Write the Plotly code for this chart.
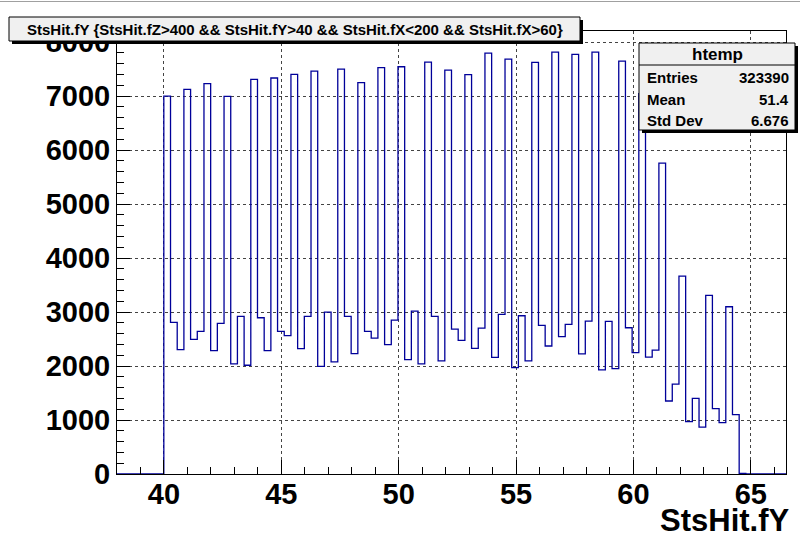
import numpy as np
import plotly.graph_objects as go

# ---- histogram definition (ROOT htemp: 100 bins on [38, 66.5]) ----
x_min = 38.0
x_max = 66.5
n_bins = 100
first_filled_bin = 7  # first bin with entries (starts at ~40.0)

counts = [7000, 2808, 2303, 7124, 2494, 2642, 7229, 2284, 2789, 6995,
          2038, 2919, 2014, 7309, 2894, 2284, 7334, 2642, 2562, 7401,
          2321, 2919, 7463, 1995, 2999, 2075, 7500, 2919, 2229, 7248,
          2642, 2518, 7525, 2395, 2851, 7543, 2118, 3017, 2038, 7629,
          2919, 2094, 7481, 2685, 2475, 7395, 2328, 2703, 7796, 2161,
          2956, 7685, 1970, 2931, 2094, 7623, 2752, 2371, 7814, 2543,
          2771, 7771, 2223, 2833, 7814, 1927, 2826, 1952, 7648, 2709,
          2248, 7044, 2163, 2293, 5759, 1352, 1666, 3663, 971, 1401,
          867, 3307, 1211, 953, 3098, 1100, 10]

title_text = "StsHit.fY {StsHit.fZ>400 && StsHit.fY>40 && StsHit.fX<200 && StsHit.fX>60}"
x_title = "StsHit.fY"
stats_name = "htemp"
stats_labels = ["Entries", "Mean", "Std Dev"]
stats_values = ["323390", "51.4", "6.676"]

x_tickvals = [40, 45, 50, 55, 60, 65]
y_tickvals = [0, 1000, 2000, 3000, 4000, 5000, 6000, 7000, 8000]

# full bin contents
values = np.zeros(n_bins)
values[first_filled_bin:first_filled_bin + len(counts)] = counts
edges = np.linspace(x_min, x_max, n_bins + 1)
y_step = np.append(values, values[-1])
y_top = 1.05 * max(counts)

# ---- layout geometry (pixels) ----
W, H = 800, 539
L, R, T, B = 117, 786, 31, 474


def px(x):
    return (x - L) / (R - L)


def py(y):
    return (B - y) / (B - T)


FONT = "Liberation Sans, Arial, Helvetica, sans-serif"

fig = go.Figure()
fig.add_trace(go.Scatter(
    x=edges, y=y_step, mode="lines", line_shape="hv",
    line=dict(color="#000099", width=1.3), hoverinfo="skip", showlegend=False))

fig.update_layout(
    width=W, height=H,
    margin=dict(l=L, r=W - R, t=T, b=H - B, pad=0),
    paper_bgcolor="white", plot_bgcolor="white",
    showlegend=False,
    xaxis=dict(
        range=[x_min, x_max], tickmode="array", tickvals=x_tickvals,
        ticks="inside", ticklen=14, tickwidth=1, tickcolor="black",
        showline=True, linecolor="black", linewidth=1, mirror=True,
        showgrid=True, gridcolor="#444444", griddash="dot", gridwidth=1,
        zeroline=False, ticklabelstandoff=-6,
        tickfont=dict(family=FONT, size=29, color="black", weight="bold"),
        minor=dict(dtick=1, tick0=0, ticks="inside", ticklen=7,
                   tickcolor="black", showgrid=False),
    ),
    yaxis=dict(
        range=[0, y_top], tickmode="array", tickvals=y_tickvals,
        ticks="inside", ticklen=13, tickwidth=1, tickcolor="black",
        showline=True, linecolor="black", linewidth=1, mirror=True,
        showgrid=True, gridcolor="#444444", griddash="dot", gridwidth=1,
        zeroline=False,
        tickfont=dict(family=FONT, size=29, color="black", weight="bold"),
        minor=dict(dtick=200, tick0=0, ticks="inside", ticklen=7,
                   tickcolor="black", showgrid=False),
    ),
)

shapes = []
# thin grey line at top of canvas
shapes.append(dict(type="line", xref="paper", yref="paper",
                   x0=px(0), x1=px(W), y0=py(1.5), y1=py(1.5),
                   line=dict(color="#a0a0a0", width=1), layer="above"))


def box(x0, y0, x1, y1, sh=3):
    return [
        dict(type="rect", xref="paper", yref="paper",
             x0=px(x0 + sh), x1=px(x1 + sh), y0=py(y0 + sh), y1=py(y1 + sh),
             fillcolor="black", line=dict(width=0), layer="above"),
        dict(type="rect", xref="paper", yref="paper",
             x0=px(x0), x1=px(x1), y0=py(y0), y1=py(y1),
             fillcolor="#f0f0f0", line=dict(color="black", width=1), layer="above"),
    ]


shapes += box(9, 17, 580, 41)
shapes += box(639, 43, 795, 130)
shapes.append(dict(type="line", xref="paper", yref="paper",
                   x0=px(639), x1=px(795), y0=py(65), y1=py(65),
                   line=dict(color="black", width=1), layer="above"))
fig.update_layout(shapes=shapes)

ann = []
ann.append(dict(text=title_text, xref="paper", yref="paper",
                x=px(294.5), y=py(29), xanchor="center", yanchor="middle",
                showarrow=False,
                font=dict(family=FONT, size=15, color="black", weight="bold")))
ann.append(dict(text=stats_name, xref="paper", yref="paper",
                x=px(717), y=py(54), xanchor="center", yanchor="middle",
                showarrow=False,
                font=dict(family=FONT, size=17, color="black", weight="bold")))
row_y = [77, 99, 120]
for lab, val, yy in zip(stats_labels, stats_values, row_y):
    ann.append(dict(text=lab, xref="paper", yref="paper",
                    x=px(645), y=py(yy), xanchor="left", yanchor="middle",
                    showarrow=False,
                    font=dict(family=FONT, size=15, color="black", weight="bold")))
    ann.append(dict(text=val, xref="paper", yref="paper",
                    x=px(791), y=py(yy), xanchor="right", yanchor="middle",
                    showarrow=False,
                    font=dict(family=FONT, size=15, color="black", weight="bold")))
ann.append(dict(text=x_title, xref="paper", yref="paper",
                x=px(791), y=py(520), xanchor="right", yanchor="middle",
                showarrow=False, borderpad=0,
                font=dict(family=FONT, size=31, color="black", weight="bold")))
fig.update_layout(annotations=ann)

fig.write_html("out.html")
